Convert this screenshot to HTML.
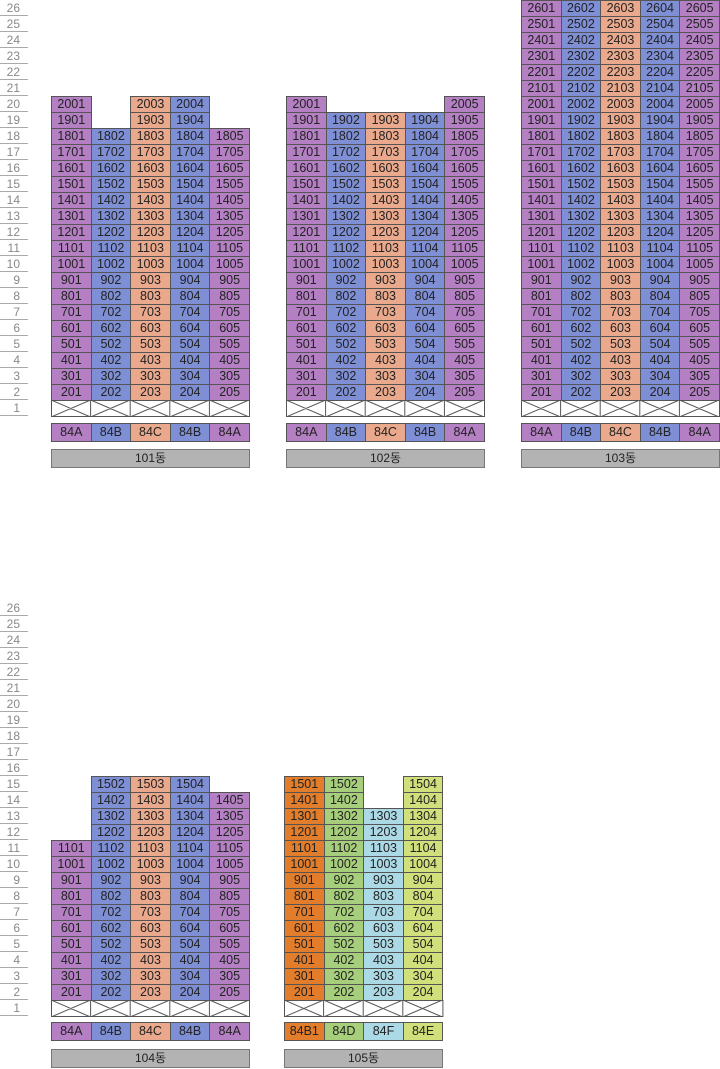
<!DOCTYPE html>
<html><head><meta charset="utf-8"><style>
*{margin:0;padding:0;box-sizing:border-box}
body{width:720px;height:1069px;background:#fff;position:relative;overflow:hidden;font-family:"Liberation Sans","Noto Sans CJK KR",sans-serif;}
.l{position:absolute;left:0;width:28px;height:16px;border-bottom:1px solid #aaa;color:#888;font-size:12px;line-height:16px;text-align:right;padding-right:8px}
.b{position:absolute}
.r{position:absolute;left:0;display:flex;height:17px}
.r i{font-style:normal;display:block;width:40.6px;height:17px;margin-right:-1px;border:1px solid #555;font-size:12.5px;line-height:15px;text-align:center;color:#222}
.r i.e{border:none;background:none}
.p{background:#b57fc4}.u{background:#7f8fd6}.o{background:#eaa98c}
.k{background:#e27d2c}.g{background:#a7cf7b}.c{background:#acd9e6}.y{background:#d2e07b}
.w{background:#fff}
.n{position:absolute;height:19px;background:#b3b3b3;border:1px solid #777;font-size:12px;line-height:17px;text-align:center;color:#222}
</style></head><body>
<div class=l style="top:0">26</div><div class=l style="top:16px">25</div><div class=l style="top:32px">24</div><div class=l style="top:48px">23</div><div class=l style="top:64px">22</div><div class=l style="top:80px">21</div><div class=l style="top:96px">20</div><div class=l style="top:112px">19</div><div class=l style="top:128px">18</div><div class=l style="top:144px">17</div><div class=l style="top:160px">16</div><div class=l style="top:176px">15</div><div class=l style="top:192px">14</div><div class=l style="top:208px">13</div><div class=l style="top:224px">12</div><div class=l style="top:240px">11</div><div class=l style="top:256px">10</div><div class=l style="top:272px">9</div><div class=l style="top:288px">8</div><div class=l style="top:304px">7</div><div class=l style="top:320px">6</div><div class=l style="top:336px">5</div><div class=l style="top:352px">4</div><div class=l style="top:368px">3</div><div class=l style="top:384px">2</div><div class=l style="top:400px">1</div>
<div class=l style="top:600px">26</div><div class=l style="top:616px">25</div><div class=l style="top:632px">24</div><div class=l style="top:648px">23</div><div class=l style="top:664px">22</div><div class=l style="top:680px">21</div><div class=l style="top:696px">20</div><div class=l style="top:712px">19</div><div class=l style="top:728px">18</div><div class=l style="top:744px">17</div><div class=l style="top:760px">16</div><div class=l style="top:776px">15</div><div class=l style="top:792px">14</div><div class=l style="top:808px">13</div><div class=l style="top:824px">12</div><div class=l style="top:840px">11</div><div class=l style="top:856px">10</div><div class=l style="top:872px">9</div><div class=l style="top:888px">8</div><div class=l style="top:904px">7</div><div class=l style="top:920px">6</div><div class=l style="top:936px">5</div><div class=l style="top:952px">4</div><div class=l style="top:968px">3</div><div class=l style="top:984px">2</div><div class=l style="top:1000px">1</div>

<!-- 101 -->
<div class=b style="left:51px;top:0">
<div class=r style="top:96px"><i class=p>2001</i><i class=e></i><i class=o>2003</i><i class=u>2004</i><i class=e></i></div>
<div class=r style="top:112px"><i class=p>1901</i><i class=e></i><i class=o>1903</i><i class=u>1904</i><i class=e></i></div>
<div class=r style="top:128px"><i class=p>1801</i><i class=u>1802</i><i class=o>1803</i><i class=u>1804</i><i class=p>1805</i></div>
<div class=r style="top:144px"><i class=p>1701</i><i class=u>1702</i><i class=o>1703</i><i class=u>1704</i><i class=p>1705</i></div>
<div class=r style="top:160px"><i class=p>1601</i><i class=u>1602</i><i class=o>1603</i><i class=u>1604</i><i class=p>1605</i></div>
<div class=r style="top:176px"><i class=p>1501</i><i class=u>1502</i><i class=o>1503</i><i class=u>1504</i><i class=p>1505</i></div>
<div class=r style="top:192px"><i class=p>1401</i><i class=u>1402</i><i class=o>1403</i><i class=u>1404</i><i class=p>1405</i></div>
<div class=r style="top:208px"><i class=p>1301</i><i class=u>1302</i><i class=o>1303</i><i class=u>1304</i><i class=p>1305</i></div>
<div class=r style="top:224px"><i class=p>1201</i><i class=u>1202</i><i class=o>1203</i><i class=u>1204</i><i class=p>1205</i></div>
<div class=r style="top:240px"><i class=p>1101</i><i class=u>1102</i><i class=o>1103</i><i class=u>1104</i><i class=p>1105</i></div>
<div class=r style="top:256px"><i class=p>1001</i><i class=u>1002</i><i class=o>1003</i><i class=u>1004</i><i class=p>1005</i></div>
<div class=r style="top:272px"><i class=p>901</i><i class=u>902</i><i class=o>903</i><i class=u>904</i><i class=p>905</i></div>
<div class=r style="top:288px"><i class=p>801</i><i class=u>802</i><i class=o>803</i><i class=u>804</i><i class=p>805</i></div>
<div class=r style="top:304px"><i class=p>701</i><i class=u>702</i><i class=o>703</i><i class=u>704</i><i class=p>705</i></div>
<div class=r style="top:320px"><i class=p>601</i><i class=u>602</i><i class=o>603</i><i class=u>604</i><i class=p>605</i></div>
<div class=r style="top:336px"><i class=p>501</i><i class=u>502</i><i class=o>503</i><i class=u>504</i><i class=p>505</i></div>
<div class=r style="top:352px"><i class=p>401</i><i class=u>402</i><i class=o>403</i><i class=u>404</i><i class=p>405</i></div>
<div class=r style="top:368px"><i class=p>301</i><i class=u>302</i><i class=o>303</i><i class=u>304</i><i class=p>305</i></div>
<div class=r style="top:384px"><i class=p>201</i><i class=u>202</i><i class=o>203</i><i class=u>204</i><i class=p>205</i></div>
<svg style="position:absolute;left:0;top:400px" width="199" height="17"><g stroke="#555" fill="none" stroke-width="1"><rect x=".5" y=".5" width="198" height="16"/><path d="M39.6 0V17M79.2 0V17M118.8 0V17M158.4 0V17M0 0L39.6 17M39.6 0L0 17M39.6 0L79.2 17M79.2 0L39.6 17M79.2 0L118.8 17M118.8 0L79.2 17M118.8 0L158.4 17M158.4 0L118.8 17M158.4 0L198 17M198 0L158.4 17"/></g></svg>
<div class=r style="top:423px;height:19px"><i class=p style="height:19px;line-height:17px">84A</i><i class=u style="height:19px;line-height:17px">84B</i><i class=o style="height:19px;line-height:17px">84C</i><i class=u style="height:19px;line-height:17px">84B</i><i class=p style="height:19px;line-height:17px">84A</i></div>
<div class=n style="left:0;top:449px;width:199px">101동</div>
</div>

<!-- 102 -->
<div class=b style="left:286px;top:0">
<div class=r style="top:96px"><i class=p>2001</i><i class=e></i><i class=e></i><i class=e></i><i class=p>2005</i></div>
<div class=r style="top:112px"><i class=p>1901</i><i class=u>1902</i><i class=o>1903</i><i class=u>1904</i><i class=p>1905</i></div>
<div class=r style="top:128px"><i class=p>1801</i><i class=u>1802</i><i class=o>1803</i><i class=u>1804</i><i class=p>1805</i></div>
<div class=r style="top:144px"><i class=p>1701</i><i class=u>1702</i><i class=o>1703</i><i class=u>1704</i><i class=p>1705</i></div>
<div class=r style="top:160px"><i class=p>1601</i><i class=u>1602</i><i class=o>1603</i><i class=u>1604</i><i class=p>1605</i></div>
<div class=r style="top:176px"><i class=p>1501</i><i class=u>1502</i><i class=o>1503</i><i class=u>1504</i><i class=p>1505</i></div>
<div class=r style="top:192px"><i class=p>1401</i><i class=u>1402</i><i class=o>1403</i><i class=u>1404</i><i class=p>1405</i></div>
<div class=r style="top:208px"><i class=p>1301</i><i class=u>1302</i><i class=o>1303</i><i class=u>1304</i><i class=p>1305</i></div>
<div class=r style="top:224px"><i class=p>1201</i><i class=u>1202</i><i class=o>1203</i><i class=u>1204</i><i class=p>1205</i></div>
<div class=r style="top:240px"><i class=p>1101</i><i class=u>1102</i><i class=o>1103</i><i class=u>1104</i><i class=p>1105</i></div>
<div class=r style="top:256px"><i class=p>1001</i><i class=u>1002</i><i class=o>1003</i><i class=u>1004</i><i class=p>1005</i></div>
<div class=r style="top:272px"><i class=p>901</i><i class=u>902</i><i class=o>903</i><i class=u>904</i><i class=p>905</i></div>
<div class=r style="top:288px"><i class=p>801</i><i class=u>802</i><i class=o>803</i><i class=u>804</i><i class=p>805</i></div>
<div class=r style="top:304px"><i class=p>701</i><i class=u>702</i><i class=o>703</i><i class=u>704</i><i class=p>705</i></div>
<div class=r style="top:320px"><i class=p>601</i><i class=u>602</i><i class=o>603</i><i class=u>604</i><i class=p>605</i></div>
<div class=r style="top:336px"><i class=p>501</i><i class=u>502</i><i class=o>503</i><i class=u>504</i><i class=p>505</i></div>
<div class=r style="top:352px"><i class=p>401</i><i class=u>402</i><i class=o>403</i><i class=u>404</i><i class=p>405</i></div>
<div class=r style="top:368px"><i class=p>301</i><i class=u>302</i><i class=o>303</i><i class=u>304</i><i class=p>305</i></div>
<div class=r style="top:384px"><i class=p>201</i><i class=u>202</i><i class=o>203</i><i class=u>204</i><i class=p>205</i></div>
<svg style="position:absolute;left:0;top:400px" width="199" height="17"><g stroke="#555" fill="none" stroke-width="1"><rect x=".5" y=".5" width="198" height="16"/><path d="M39.6 0V17M79.2 0V17M118.8 0V17M158.4 0V17M0 0L39.6 17M39.6 0L0 17M39.6 0L79.2 17M79.2 0L39.6 17M79.2 0L118.8 17M118.8 0L79.2 17M118.8 0L158.4 17M158.4 0L118.8 17M158.4 0L198 17M198 0L158.4 17"/></g></svg>
<div class=r style="top:423px;height:19px"><i class=p style="height:19px;line-height:17px">84A</i><i class=u style="height:19px;line-height:17px">84B</i><i class=o style="height:19px;line-height:17px">84C</i><i class=u style="height:19px;line-height:17px">84B</i><i class=p style="height:19px;line-height:17px">84A</i></div>
<div class=n style="left:0;top:449px;width:199px">102동</div>
</div>

<!-- 103 -->
<div class=b style="left:521px;top:0">
<div class=r style="top:0px"><i class=p>2601</i><i class=u>2602</i><i class=o>2603</i><i class=u>2604</i><i class=p>2605</i></div>
<div class=r style="top:16px"><i class=p>2501</i><i class=u>2502</i><i class=o>2503</i><i class=u>2504</i><i class=p>2505</i></div>
<div class=r style="top:32px"><i class=p>2401</i><i class=u>2402</i><i class=o>2403</i><i class=u>2404</i><i class=p>2405</i></div>
<div class=r style="top:48px"><i class=p>2301</i><i class=u>2302</i><i class=o>2303</i><i class=u>2304</i><i class=p>2305</i></div>
<div class=r style="top:64px"><i class=p>2201</i><i class=u>2202</i><i class=o>2203</i><i class=u>2204</i><i class=p>2205</i></div>
<div class=r style="top:80px"><i class=p>2101</i><i class=u>2102</i><i class=o>2103</i><i class=u>2104</i><i class=p>2105</i></div>
<div class=r style="top:96px"><i class=p>2001</i><i class=u>2002</i><i class=o>2003</i><i class=u>2004</i><i class=p>2005</i></div>
<div class=r style="top:112px"><i class=p>1901</i><i class=u>1902</i><i class=o>1903</i><i class=u>1904</i><i class=p>1905</i></div>
<div class=r style="top:128px"><i class=p>1801</i><i class=u>1802</i><i class=o>1803</i><i class=u>1804</i><i class=p>1805</i></div>
<div class=r style="top:144px"><i class=p>1701</i><i class=u>1702</i><i class=o>1703</i><i class=u>1704</i><i class=p>1705</i></div>
<div class=r style="top:160px"><i class=p>1601</i><i class=u>1602</i><i class=o>1603</i><i class=u>1604</i><i class=p>1605</i></div>
<div class=r style="top:176px"><i class=p>1501</i><i class=u>1502</i><i class=o>1503</i><i class=u>1504</i><i class=p>1505</i></div>
<div class=r style="top:192px"><i class=p>1401</i><i class=u>1402</i><i class=o>1403</i><i class=u>1404</i><i class=p>1405</i></div>
<div class=r style="top:208px"><i class=p>1301</i><i class=u>1302</i><i class=o>1303</i><i class=u>1304</i><i class=p>1305</i></div>
<div class=r style="top:224px"><i class=p>1201</i><i class=u>1202</i><i class=o>1203</i><i class=u>1204</i><i class=p>1205</i></div>
<div class=r style="top:240px"><i class=p>1101</i><i class=u>1102</i><i class=o>1103</i><i class=u>1104</i><i class=p>1105</i></div>
<div class=r style="top:256px"><i class=p>1001</i><i class=u>1002</i><i class=o>1003</i><i class=u>1004</i><i class=p>1005</i></div>
<div class=r style="top:272px"><i class=p>901</i><i class=u>902</i><i class=o>903</i><i class=u>904</i><i class=p>905</i></div>
<div class=r style="top:288px"><i class=p>801</i><i class=u>802</i><i class=o>803</i><i class=u>804</i><i class=p>805</i></div>
<div class=r style="top:304px"><i class=p>701</i><i class=u>702</i><i class=o>703</i><i class=u>704</i><i class=p>705</i></div>
<div class=r style="top:320px"><i class=p>601</i><i class=u>602</i><i class=o>603</i><i class=u>604</i><i class=p>605</i></div>
<div class=r style="top:336px"><i class=p>501</i><i class=u>502</i><i class=o>503</i><i class=u>504</i><i class=p>505</i></div>
<div class=r style="top:352px"><i class=p>401</i><i class=u>402</i><i class=o>403</i><i class=u>404</i><i class=p>405</i></div>
<div class=r style="top:368px"><i class=p>301</i><i class=u>302</i><i class=o>303</i><i class=u>304</i><i class=p>305</i></div>
<div class=r style="top:384px"><i class=p>201</i><i class=u>202</i><i class=o>203</i><i class=u>204</i><i class=p>205</i></div>
<svg style="position:absolute;left:0;top:400px" width="199" height="17"><g stroke="#555" fill="none" stroke-width="1"><rect x=".5" y=".5" width="198" height="16"/><path d="M39.6 0V17M79.2 0V17M118.8 0V17M158.4 0V17M0 0L39.6 17M39.6 0L0 17M39.6 0L79.2 17M79.2 0L39.6 17M79.2 0L118.8 17M118.8 0L79.2 17M118.8 0L158.4 17M158.4 0L118.8 17M158.4 0L198 17M198 0L158.4 17"/></g></svg>
<div class=r style="top:423px;height:19px"><i class=p style="height:19px;line-height:17px">84A</i><i class=u style="height:19px;line-height:17px">84B</i><i class=o style="height:19px;line-height:17px">84C</i><i class=u style="height:19px;line-height:17px">84B</i><i class=p style="height:19px;line-height:17px">84A</i></div>
<div class=n style="left:0;top:449px;width:199px">103동</div>
</div>

<!-- 104 -->
<div class=b style="left:51px;top:600px">
<div class=r style="top:176px"><i class=e></i><i class=u>1502</i><i class=o>1503</i><i class=u>1504</i><i class=e></i></div>
<div class=r style="top:192px"><i class=e></i><i class=u>1402</i><i class=o>1403</i><i class=u>1404</i><i class=p>1405</i></div>
<div class=r style="top:208px"><i class=e></i><i class=u>1302</i><i class=o>1303</i><i class=u>1304</i><i class=p>1305</i></div>
<div class=r style="top:224px"><i class=e></i><i class=u>1202</i><i class=o>1203</i><i class=u>1204</i><i class=p>1205</i></div>
<div class=r style="top:240px"><i class=p>1101</i><i class=u>1102</i><i class=o>1103</i><i class=u>1104</i><i class=p>1105</i></div>
<div class=r style="top:256px"><i class=p>1001</i><i class=u>1002</i><i class=o>1003</i><i class=u>1004</i><i class=p>1005</i></div>
<div class=r style="top:272px"><i class=p>901</i><i class=u>902</i><i class=o>903</i><i class=u>904</i><i class=p>905</i></div>
<div class=r style="top:288px"><i class=p>801</i><i class=u>802</i><i class=o>803</i><i class=u>804</i><i class=p>805</i></div>
<div class=r style="top:304px"><i class=p>701</i><i class=u>702</i><i class=o>703</i><i class=u>704</i><i class=p>705</i></div>
<div class=r style="top:320px"><i class=p>601</i><i class=u>602</i><i class=o>603</i><i class=u>604</i><i class=p>605</i></div>
<div class=r style="top:336px"><i class=p>501</i><i class=u>502</i><i class=o>503</i><i class=u>504</i><i class=p>505</i></div>
<div class=r style="top:352px"><i class=p>401</i><i class=u>402</i><i class=o>403</i><i class=u>404</i><i class=p>405</i></div>
<div class=r style="top:368px"><i class=p>301</i><i class=u>302</i><i class=o>303</i><i class=u>304</i><i class=p>305</i></div>
<div class=r style="top:384px"><i class=p>201</i><i class=u>202</i><i class=o>203</i><i class=u>204</i><i class=p>205</i></div>
<svg style="position:absolute;left:0;top:400px" width="199" height="17"><g stroke="#555" fill="none" stroke-width="1"><rect x=".5" y=".5" width="198" height="16"/><path d="M39.6 0V17M79.2 0V17M118.8 0V17M158.4 0V17M0 0L39.6 17M39.6 0L0 17M39.6 0L79.2 17M79.2 0L39.6 17M79.2 0L118.8 17M118.8 0L79.2 17M118.8 0L158.4 17M158.4 0L118.8 17M158.4 0L198 17M198 0L158.4 17"/></g></svg>
<div class=r style="top:422px;height:19px"><i class=p style="height:19px;line-height:17px">84A</i><i class=u style="height:19px;line-height:17px">84B</i><i class=o style="height:19px;line-height:17px">84C</i><i class=u style="height:19px;line-height:17px">84B</i><i class=p style="height:19px;line-height:17px">84A</i></div>
<div class=n style="left:0;top:449px;width:199px">104동</div>
</div>

<!-- 105 -->
<div class=b style="left:284px;top:600px">
<div class=r style="top:176px"><i class=k>1501</i><i class=g>1502</i><i class=e></i><i class=y>1504</i></div>
<div class=r style="top:192px"><i class=k>1401</i><i class=g>1402</i><i class=e></i><i class=y>1404</i></div>
<div class=r style="top:208px"><i class=k>1301</i><i class=g>1302</i><i class=c>1303</i><i class=y>1304</i></div>
<div class=r style="top:224px"><i class=k>1201</i><i class=g>1202</i><i class=c>1203</i><i class=y>1204</i></div>
<div class=r style="top:240px"><i class=k>1101</i><i class=g>1102</i><i class=c>1103</i><i class=y>1104</i></div>
<div class=r style="top:256px"><i class=k>1001</i><i class=g>1002</i><i class=c>1003</i><i class=y>1004</i></div>
<div class=r style="top:272px"><i class=k>901</i><i class=g>902</i><i class=c>903</i><i class=y>904</i></div>
<div class=r style="top:288px"><i class=k>801</i><i class=g>802</i><i class=c>803</i><i class=y>804</i></div>
<div class=r style="top:304px"><i class=k>701</i><i class=g>702</i><i class=c>703</i><i class=y>704</i></div>
<div class=r style="top:320px"><i class=k>601</i><i class=g>602</i><i class=c>603</i><i class=y>604</i></div>
<div class=r style="top:336px"><i class=k>501</i><i class=g>502</i><i class=c>503</i><i class=y>504</i></div>
<div class=r style="top:352px"><i class=k>401</i><i class=g>402</i><i class=c>403</i><i class=y>404</i></div>
<div class=r style="top:368px"><i class=k>301</i><i class=g>302</i><i class=c>303</i><i class=y>304</i></div>
<div class=r style="top:384px"><i class=k>201</i><i class=g>202</i><i class=c>203</i><i class=y>204</i></div>
<svg style="position:absolute;left:0;top:400px" width="160" height="17"><g stroke="#555" fill="none" stroke-width="1"><rect x=".5" y=".5" width="158.4" height="16"/><path d="M39.6 0V17M79.2 0V17M118.8 0V17M0 0L39.6 17M39.6 0L0 17M39.6 0L79.2 17M79.2 0L39.6 17M79.2 0L118.8 17M118.8 0L79.2 17M118.8 0L158.4 17M158.4 0L118.8 17"/></g></svg>
<div class=r style="top:422px;height:19px"><i class=k style="height:19px;line-height:17px">84B1</i><i class=g style="height:19px;line-height:17px">84D</i><i class=c style="height:19px;line-height:17px">84F</i><i class=y style="height:19px;line-height:17px">84E</i></div>
<div class=n style="left:0;top:449px;width:159px">105동</div>
</div>
</body></html>
